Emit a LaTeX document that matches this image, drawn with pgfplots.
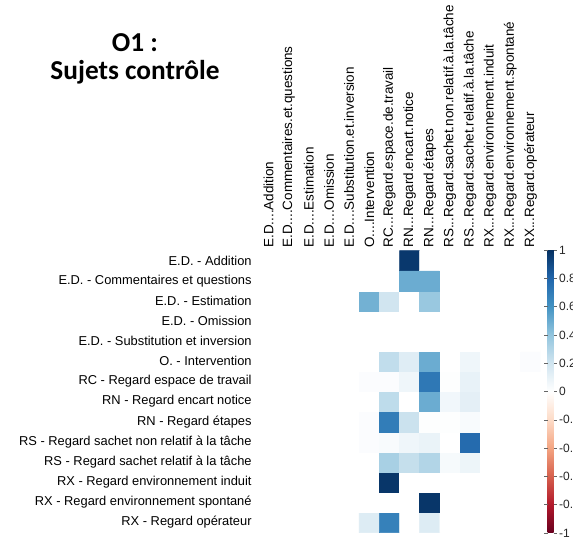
\documentclass[border=0pt]{standalone}
\usepackage{fontspec}
\setmainfont{Liberation Sans}
\newfontfamily\titlefont{Carlito}
\usepackage{pgfplots}
\pgfplotsset{compat=1.18}

% a dot that \foreach does not read as "..."
\newcommand*\dt{.}

\pgfplotsset{
  colormap={corr}{rgb255=(103,0,31) rgb255=(178,24,43) rgb255=(214,96,77)
    rgb255=(244,165,130) rgb255=(253,219,199) rgb255=(255,255,255)
    rgb255=(209,229,240) rgb255=(146,197,222) rgb255=(67,147,195)
    rgb255=(33,102,172) rgb255=(5,48,97)},
}

\begin{document}
\begin{tikzpicture}
\useasboundingbox (0,0) rectangle (429.75pt,405pt);
\clip (0,0) rectangle (429.75pt,405pt);

% title
\node[anchor=base, font=\titlefont\bfseries\fontsize{20.5}{24}\selectfont] at (101.25pt,366pt) {O1 :};
\node[anchor=base, font=\titlefont\bfseries\fontsize{20.5}{24}\selectfont] at (101.25pt,345pt) {Sujets contrôle};

\begin{axis}[
  at={(193.9pt,5.6pt)}, anchor=south west,
  scale only axis, width=211.5pt, height=211.5pt,
  xmin=-0.5, xmax=13.5, ymin=-0.5, ymax=13.5,
  axis line style={draw=none},
  major tick length=0pt,
  xtick={0,1,2,3,4,5,6,7,8,9,10,11,12,13}, ytick={0,1,2,3,4,5,6,7,8,9,10,11,12,13},
  xticklabel pos=upper,
  xticklabels={E.D.\dt.\dt Addition, E.D.\dt.\dt Commentaires.et.questions, E.D.\dt.\dt Estimation,
    E.D.\dt.\dt Omission, E.D.\dt.\dt Substitution.et.inversion, O.\dt.\dt Intervention,
    RC.\dt.Regard.espace.de.travail, RN.\dt.Regard.encart.notice, RN.\dt.Regard.étapes,
    RS.\dt.Regard.sachet.non.relatif.à.la.tâche, RS.\dt.Regard.sachet.relatif.à.la.tâche,
    RX.\dt.Regard.environnement.induit, RX.\dt.Regard.environnement.spontané,
    RX.\dt.Regard.opérateur},
  yticklabels={RX - Regard opérateur, RX - Regard environnement spontané,
    RX - Regard environnement induit, RS - Regard sachet relatif à la tâche,
    RS - Regard sachet non relatif à la tâche, RN - Regard étapes,
    RN - Regard encart notice, RC - Regard espace de travail, O. - Intervention,
    E.D. - Substitution et inversion, E.D. - Omission, E.D. - Estimation,
    E.D. - Commentaires et questions, E.D. - Addition},
  xticklabel style={rotate=90, anchor=west, inner sep=0pt, font=\fontsize{10.1}{11}\selectfont},
  yticklabel style={anchor=east, inner sep=0pt, font=\fontsize{9.65}{11}\selectfont},
  xticklabel shift=2pt,
  yticklabel shift=5pt,
  colormap name=corr,
  point meta min=-1, point meta max=1,
  colorbar,
  colorbar style={
    at={(1.025,1.002)}, anchor=north west,
    width=4.5pt, height=212.25pt,
    ytick={-1,-0.8,-0.6,-0.4,-0.2,0,0.2,0.4,0.6,0.8,1},
    yticklabels={-1,-0.8,-0.6,-0.4,-0.2,0,0.2,0.4,0.6,0.8,1},
    axis line style={draw=none},
    major tick length=2.5pt,
    tick align=outside,
    ytick style={draw=black!60, line width=0.4pt},
    yticklabel pos=right,
    yticklabel style={font=\fontsize{9}{10}\selectfont, inner sep=1pt, anchor=west, text=black!85},
    yticklabel shift=0.5pt,
  },
]
\addplot[matrix plot*, mesh/cols=14, point meta=explicit, draw=none]
  table[x=x, y=y, meta=c, row sep=\\] {
x y c\\
0 0 0\\1 0 0\\2 0 0\\3 0 0\\4 0 0\\5 0 0.15\\6 0 0.68\\7 0 0\\8 0 0.15\\9 0 0\\10 0 0\\11 0 0\\12 0 0\\13 0 0\\
0 1 0\\1 1 0\\2 1 0\\3 1 0\\4 1 0\\5 1 0\\6 1 0\\7 1 0\\8 1 0.98\\9 1 0\\10 1 0\\11 1 0\\12 1 0\\13 1 0\\
0 2 0\\1 2 0\\2 2 0\\3 2 0\\4 2 0\\5 2 0\\6 2 0.98\\7 2 0\\8 2 0\\9 2 0\\10 2 0\\11 2 0\\12 2 0\\13 2 0\\
0 3 0\\1 3 0\\2 3 0\\3 3 0\\4 3 0\\5 3 0\\6 3 0.33\\7 3 0.24\\8 3 0.3\\9 3 0.04\\10 3 0.08\\11 3 0\\12 3 0\\13 3 0\\
0 4 0\\1 4 0\\2 4 0\\3 4 0\\4 4 0\\5 4 0.02\\6 4 0.03\\7 4 0.07\\8 4 0.09\\9 4 0\\10 4 0.78\\11 4 0\\12 4 0\\13 4 0\\
0 5 0\\1 5 0\\2 5 0\\3 5 0\\4 5 0\\5 5 0.02\\6 5 0.7\\7 5 0.22\\8 5 0.01\\9 5 0.01\\10 5 0.03\\11 5 0\\12 5 0\\13 5 0\\
0 6 0\\1 6 0\\2 6 0\\3 6 0\\4 6 0\\5 6 0\\6 6 0.26\\7 6 0\\8 6 0.5\\9 6 0.06\\10 6 0.12\\11 6 0\\12 6 0\\13 6 0\\
0 7 0\\1 7 0\\2 7 0\\3 7 0\\4 7 0\\5 7 0.02\\6 7 0.02\\7 7 0.07\\8 7 0.72\\9 7 0.01\\10 7 0.1\\11 7 0\\12 7 0\\13 7 0\\
0 8 0\\1 8 0\\2 8 0\\3 8 0\\4 8 0\\5 8 0\\6 8 0.25\\7 8 0.14\\8 8 0.5\\9 8 0\\10 8 0.07\\11 8 0\\12 8 0\\13 8 0.02\\
0 9 0\\1 9 0\\2 9 0\\3 9 0\\4 9 0\\5 9 0\\6 9 0\\7 9 0\\8 9 0\\9 9 0\\10 9 0\\11 9 0\\12 9 0\\13 9 0\\
0 10 0\\1 10 0\\2 10 0\\3 10 0\\4 10 0\\5 10 0\\6 10 0\\7 10 0\\8 10 0\\9 10 0\\10 10 0\\11 10 0\\12 10 0\\13 10 0\\
0 11 0\\1 11 0\\2 11 0\\3 11 0\\4 11 0\\5 11 0.48\\6 11 0.2\\7 11 0\\8 11 0.38\\9 11 0\\10 11 0\\11 11 0\\12 11 0\\13 11 0\\
0 12 0\\1 12 0\\2 12 0\\3 12 0\\4 12 0\\5 12 0\\6 12 0\\7 12 0.5\\8 12 0.5\\9 12 0\\10 12 0\\11 12 0\\12 12 0\\13 12 0\\
0 13 0\\1 13 0\\2 13 0\\3 13 0\\4 13 0\\5 13 0\\6 13 0\\7 13 0.97\\8 13 0\\9 13 0\\10 13 0\\11 13 0\\12 13 0\\13 13 0\\
};
\end{axis}
\end{tikzpicture}
\end{document}
